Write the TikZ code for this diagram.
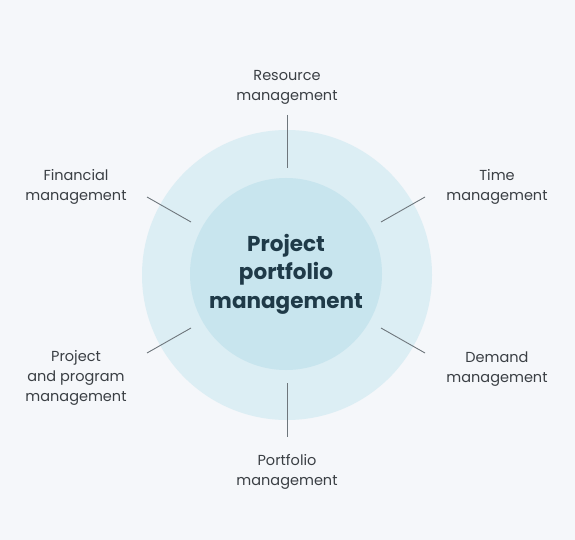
\documentclass[tikz,border=0pt]{standalone}
\usepackage{fontspec}
\setmainfont{Poppins}
\definecolor{bg}{HTML}{F5F7FA}
\definecolor{outerc}{HTML}{DCEEF4}
\definecolor{innerc}{HTML}{C8E5EE}
\definecolor{titlec}{HTML}{1F3A48}
\definecolor{labelc}{HTML}{3A3F44}
\definecolor{linec}{HTML}{6E767C}
\begin{document}
\begin{tikzpicture}[x=1pt,y=-1pt,
  lab/.style={align=center,text=labelc,font=\fontsize{14.5}{20}\selectfont,inner sep=0pt},
  conn/.style={draw=linec,line width=0.9pt}]
\fill[bg] (0,0) rectangle (575,540);
\useasboundingbox (0,0) rectangle (575,540);
\node[circle,fill=outerc,minimum size=290pt,inner sep=0pt] (outer) at (287,275) {};
\node[circle,fill=innerc,minimum size=192pt,inner sep=0pt] (inner) at (286,274) {};
\node[align=center,text=titlec,font=\fontsize{21.5}{28.5}\selectfont\bfseries,inner sep=0pt] (title) at (286,274) {Project\\portfolio\\management};
\node[lab] (res) at (287,87) {Resource\\management};
\node[lab] (fin) at (76,187) {Financial\\management};
\node[lab] (time) at (497,187) {Time\\management};
\node[lab] (ppm) at (76,378) {Project\\and program\\management};
\node[lab] (dem) at (497,369) {Demand\\management};
\node[lab] (port) at (287,472) {Portfolio\\management};
\coordinate (r1) at (287,115); \coordinate (r2) at (287,168);
\coordinate (b1) at (287,383); \coordinate (b2) at (287,437);
\coordinate (ul1) at (147,197); \coordinate (ul2) at (191,222);
\coordinate (ur1) at (425,197); \coordinate (ur2) at (381,222);
\coordinate (ll1) at (147,353); \coordinate (ll2) at (191,328);
\coordinate (lr1) at (425,353); \coordinate (lr2) at (381,328);
\draw[conn] (r1) -- (r2);
\draw[conn] (b1) -- (b2);
\draw[conn] (ul1) -- (ul2);
\draw[conn] (ur1) -- (ur2);
\draw[conn] (ll1) -- (ll2);
\draw[conn] (lr1) -- (lr2);
\end{tikzpicture}
\end{document}
